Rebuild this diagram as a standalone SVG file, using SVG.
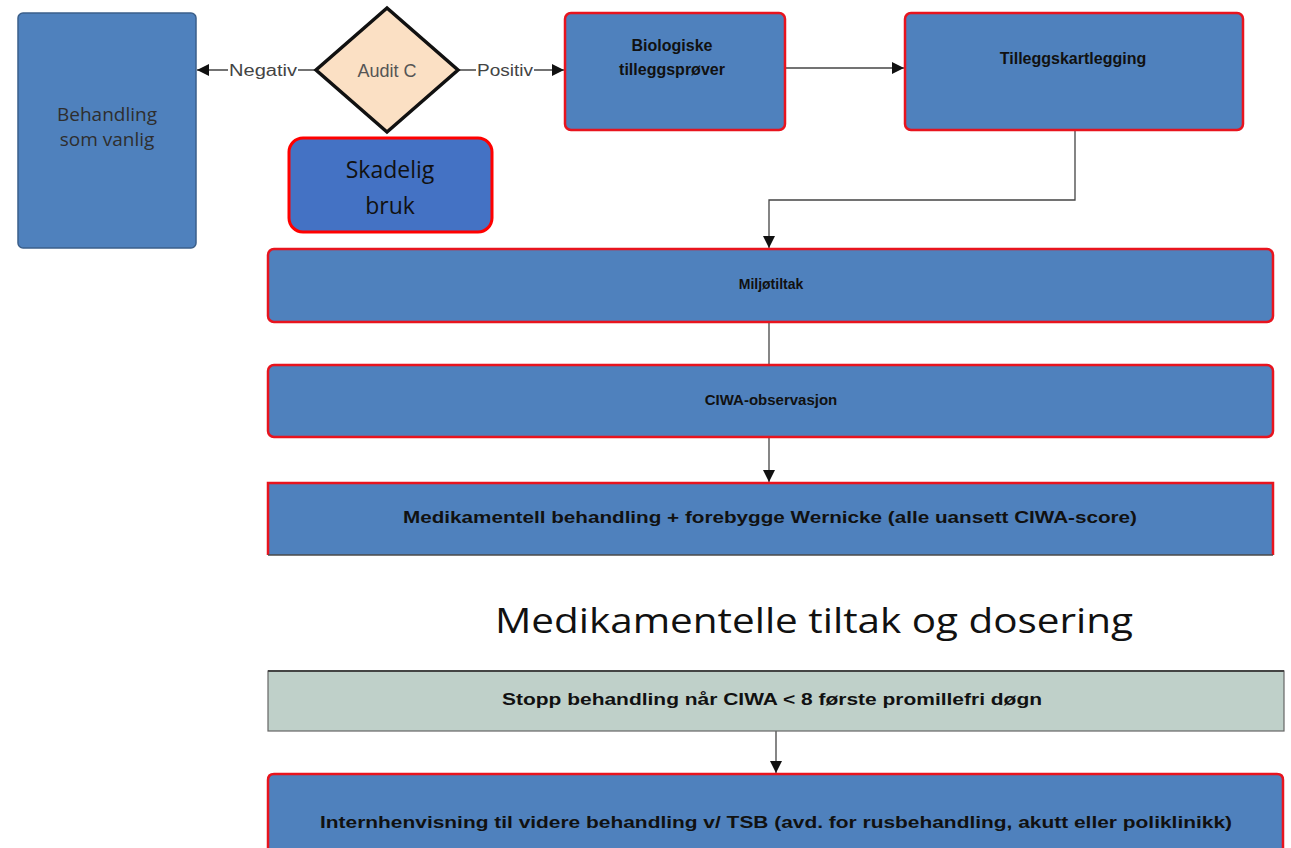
<svg xmlns="http://www.w3.org/2000/svg" width="1291" height="848" viewBox="0 0 1291 848">
<style>
.blue{fill:#4f81bd;stroke:#e8141e;stroke-width:2.5}
.t{font-family:"Liberation Sans",Arial,sans-serif;font-weight:bold;fill:#111;text-anchor:middle}
.c{fill:none;stroke:#444;stroke-width:1.3}
.lbl{font-family:"Liberation Sans",Arial,sans-serif;font-size:16px;fill:#444;text-anchor:middle}
</style>
<defs>
<marker id="ah" viewBox="0 0 10 10" refX="10" refY="5" markerWidth="12" markerHeight="12" markerUnits="userSpaceOnUse" orient="auto">
<path d="M0,0 L10,5 L0,10 z" fill="#111"/>
</marker>
</defs>
<rect width="1291" height="848" fill="#fff"/>
<g id="connectors">
<line class="c" x1="315" y1="70" x2="197" y2="70" marker-end="url(#ah)"/>
<line class="c" x1="458" y1="70" x2="564" y2="70" marker-end="url(#ah)"/>
<line class="c" x1="785" y1="68" x2="904" y2="68" marker-end="url(#ah)"/>
<polyline class="c" points="1075,130 1075,200 769,200 769,248" marker-end="url(#ah)"/>
<line class="c" x1="769" y1="322" x2="769" y2="365"/>
<line class="c" x1="769" y1="437" x2="769" y2="482" marker-end="url(#ah)"/>
<line class="c" x1="776" y1="731" x2="776" y2="773" marker-end="url(#ah)"/>
<rect x="228" y="60" width="70" height="19" fill="#fff"/>
<text class="lbl" x="263" y="76" textLength="68" lengthAdjust="spacingAndGlyphs">Negativ</text>
<rect x="476" y="60" width="58" height="19" fill="#fff"/>
<text class="lbl" x="505" y="76" textLength="56" lengthAdjust="spacingAndGlyphs">Positiv</text>
</g>
<g id="behandling">
<rect x="18" y="13" width="178" height="235" rx="5" fill="#4f81bd" stroke="#3b5f8a" stroke-width="1.5"/>
<text x="107" y="121" font-family="'Open Sans','Liberation Sans',sans-serif" font-size="19" fill="#2e2e2e" text-anchor="middle">Behandling</text>
<text x="107" y="146" font-family="'Open Sans','Liberation Sans',sans-serif" font-size="19" fill="#2e2e2e" text-anchor="middle">som vanlig</text>
</g>
<g id="auditc">
<polygon points="387,8 458,70 387,132 316,70" fill="#fbe0c4" stroke="#111" stroke-width="3.5"/>
<text x="387" y="77" font-family="'Liberation Sans',Arial,sans-serif" font-size="18" fill="#555" text-anchor="middle">Audit C</text>
</g>
<g id="skadelig">
<rect x="289" y="138" width="203" height="94" rx="14" fill="#4472c4" stroke="#ff0000" stroke-width="3"/>
<text x="390" y="178" font-family="'Open Sans','Liberation Sans',sans-serif" font-size="23" fill="#111" text-anchor="middle">Skadelig</text>
<text x="390" y="214" font-family="'Open Sans','Liberation Sans',sans-serif" font-size="23" fill="#111" text-anchor="middle">bruk</text>
</g>
<g id="biologiske">
<rect class="blue" x="565" y="13" width="220" height="117" rx="6"/>
<text class="t" x="672" y="51" font-size="16">Biologiske</text>
<text class="t" x="672" y="75" font-size="16">tilleggsprøver</text>
</g>
<g id="tilleggskartlegging">
<rect class="blue" x="905" y="13" width="338" height="117" rx="6"/>
<text class="t" x="1073" y="64" font-size="16">Tilleggskartlegging</text>
</g>
<g id="miljotiltak">
<rect class="blue" x="268" y="249" width="1005" height="73" rx="6"/>
<text class="t" x="771" y="289" font-size="14">Miljøtiltak</text>
</g>
<g id="ciwa">
<rect class="blue" x="268" y="365" width="1005" height="72" rx="6"/>
<text class="t" x="771" y="405" font-size="15">CIWA-observasjon</text>
</g>
<g id="medikamentell">
<path d="M268,555 L268,483 L1273,483 L1273,555" fill="#4f81bd" stroke="#e8141e" stroke-width="2.5"/>
<line x1="268" y1="555" x2="1273" y2="555" stroke="#4a4a4a" stroke-width="1.5"/>
<text class="t" x="770" y="523" font-size="16" textLength="734" lengthAdjust="spacingAndGlyphs">Medikamentell behandling + forebygge Wernicke (alle uansett CIWA-score)</text>
</g>
<g id="title">
<text x="814" y="633" font-family="'Open Sans','Liberation Sans',sans-serif" font-size="35" fill="#111" text-anchor="middle" textLength="638" lengthAdjust="spacingAndGlyphs">Medikamentelle tiltak og dosering</text>
</g>
<g id="stopp">
<rect x="268" y="671" width="1016" height="60" fill="#bfd0c9" stroke="#666" stroke-width="1.2"/>
<line x1="268" y1="671" x2="1284" y2="671" stroke="#444" stroke-width="2"/>
<text class="t" x="772" y="705" font-size="16" textLength="540" lengthAdjust="spacingAndGlyphs">Stopp behandling når CIWA &lt; 8 første promillefri døgn</text>
</g>
<g id="internhenvisning">
<path d="M268,850 L268,780 Q268,774 274,774 L1277,774 Q1283,774 1283,780 L1283,850" fill="#4f81bd" stroke="#e8141e" stroke-width="2.5"/>
<text class="t" x="776" y="828" font-size="16" textLength="912" lengthAdjust="spacingAndGlyphs">Internhenvisning til videre behandling v/ TSB (avd. for rusbehandling, akutt eller poliklinikk)</text>
</g>
</svg>
